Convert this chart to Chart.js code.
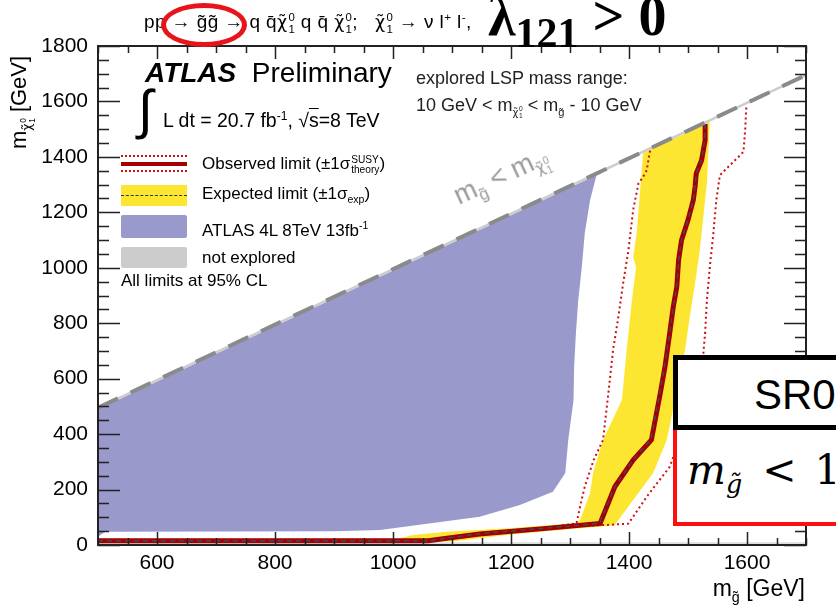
<!DOCTYPE html>
<html>
<head>
<meta charset="utf-8">
<script src="https://cdn.jsdelivr.net/npm/chart.js@4.4.1/dist/chart.umd.min.js"></script>
<style>
  body { margin: 0; background: #fff; }
  #wrap { position: relative; width: 836px; height: 606px; overflow: hidden;
          font-family: 'Liberation Sans', Arial, sans-serif; color: #000; }
  #c { position: absolute; left: 0; top: 0; }
  .t { position: absolute; white-space: nowrap; line-height: 1; }
  sub, sup { font-size: .62em; line-height: 0; }
  /* stacked superscript over subscript */
  .ss { display: inline-flex; flex-direction: column; font-size: .6em; line-height: 1.02; vertical-align: .62em; margin-left: .08em; }
  .chi { font-family: 'DejaVu Sans', sans-serif; font-size: .92em; }
  .sw { position: absolute; left: 121px; width: 66px; }
</style>
</head>
<body>
<div id="wrap">
  <canvas id="c" width="836" height="606"></canvas>

  <!-- process line and coupling -->
  <div class="t" style="left:144px;top:12px;font-size:19px;letter-spacing:.4px">pp → g̃g̃ → q q̄<span class="chi">χ̃</span><span class="ss"><span>0</span><span>1</span></span> q q̄ <span class="chi">χ̃</span><span class="ss"><span>0</span><span>1</span></span>;&nbsp;&nbsp; <span class="chi">χ̃</span><span class="ss"><span>0</span><span>1</span></span> → ν l<sup>+</sup> l<sup>-</sup>,</div>
  <div class="t" style="left:161px;top:3px;width:86px;height:44px;border:5px solid #e8141b;border-radius:50%;box-sizing:border-box"></div>
  <div class="t" style="left:488px;top:-16px;font:bold 56px 'Liberation Serif', serif">λ<span style="font-size:42px;position:relative;top:12px">121</span> &gt; 0</div>

  <!-- header and legend -->
  <div class="t" style="left:145px;top:59px;font-size:28px"><b><i>ATLAS</i></b>&nbsp;&nbsp;Preliminary</div>
  <div class="t" style="left:138px;top:82px;font-size:54px;font-weight:300">∫</div>
  <div class="t" style="left:163px;top:111px;font-size:19.5px">L dt = 20.7 fb<sup>-1</sup>, √<span style="text-decoration:overline">s</span>=8 TeV</div>

  <div class="sw" style="top:155px;border-top:2px dotted #cc1111"></div>
  <div class="sw" style="top:162px;height:4px;background:#a50000"></div>
  <div class="sw" style="top:170px;border-top:2px dotted #cc1111"></div>
  <div class="t" style="left:202px;top:155px;font-size:17px">Observed limit (±1σ<span class="ss"><span>SUSY</span><span>theory</span></span>)</div>

  <div class="sw" style="top:185px;height:21px;background:#fde631"></div>
  <div class="sw" style="top:195px;border-top:1.5px dashed #333"></div>
  <div class="t" style="left:202px;top:185px;font-size:17px">Expected limit (±1σ<sub>exp</sub>)</div>

  <div class="sw" style="top:215px;height:23px;background:#9999cc;border-radius:2px"></div>
  <div class="t" style="left:202px;top:222px;font-size:17px">ATLAS 4L 8TeV 13fb<sup>-1</sup></div>

  <div class="sw" style="top:247px;height:21px;background:#cccccc;border-radius:2px"></div>
  <div class="t" style="left:202px;top:249px;font-size:17px">not explored</div>
  <div class="t" style="left:121px;top:272px;font-size:17px">All limits at 95% CL</div>

  <div class="t" style="left:416px;top:69px;font-size:18px;color:#222">explored LSP mass range:</div>
  <div class="t" style="left:416px;top:96px;font-size:18px;color:#222">10 GeV &lt; m<sub><span class="chi">χ̃</span><span class="ss"><span>0</span><span>1</span></span></sub> &lt; m<sub>g̃</sub> - 10 GeV</div>

  <div class="t" style="left:459px;top:183px;font-size:27px;color:#9a9a9a;transform-origin:0 22px;transform:rotate(-25deg)">m<sub>g̃</sub> &lt; m<sub><span class="chi">χ̃</span><span class="ss"><span>0</span><span>1</span></span></sub></div>

  <!-- axis titles -->
  <div class="t" style="right:31px;top:577px;font-size:23px">m<sub>g̃</sub> [GeV]</div>
  <div class="t" style="left:8px;top:149px;font-size:22px;transform-origin:0 0;transform:rotate(-90deg)">m<sub><span class="chi">χ̃</span><span class="ss"><span>0</span><span>1</span></span></sub> [GeV]</div>

  <!-- signal region box -->
  <div class="t" style="left:673px;top:355px;width:200px;height:75px;border:5px solid #000;background:#fff;box-sizing:border-box"></div>
  <div class="t" style="left:754px;top:374px;font-size:42px">SR0</div>
  <div class="t" style="left:673px;top:430px;width:200px;height:96px;border:4px solid #ff1010;border-top:none;background:#fff;box-sizing:border-box"></div>
  <div class="t" style="left:687px;top:446px;font:41px 'DejaVu Serif', serif"><i>m</i><sub><i>g̃</i></sub><span style="margin-left:20px">&lt;</span><span style="margin-left:18px">1</span></div>
</div>

<script>
// tick labels
const xTickValues = [600, 800, 1000, 1200, 1400, 1600];
const yTickValues = [0, 200, 400, 600, 800, 1000, 1200, 1400, 1600, 1800];

// [m_gluino, m_chi] in GeV
const kinEdge = [[500, 495], [1700, 1695]];
const notExploredTop = [[500, 490], [1700, 1690], [1700, 1700], [500, 500]];
const notExploredLow = [[500, 0], [1700, 0], [1700, 10], [500, 10]];

const atlas4L = [[500, 490], [1345, 1335], [1334, 1244], [1325, 1125], [1320, 1003], [1314, 883],
  [1310, 764], [1307, 643], [1306, 523], [1297, 379], [1292, 260], [1271, 192], [1215, 144],
  [1147, 102], [978, 54], [900, 50], [512, 48], [500, 30]];

const expBand = [[1424, 1414], [1413, 1125], [1407, 1038], [1412, 1002], [1405, 883], [1396, 703],
  [1388, 523], [1356, 379], [1339, 260], [1334, 187], [1317, 90], [1311, 79], [1203, 61],
  [1091, 48], [1034, 36], [1000, 18], [1010, 12], [1100, 13], [1200, 38], [1300, 58], [1360, 68],
  [1376, 72], [1407, 162], [1441, 260], [1464, 379], [1478, 523], [1489, 643], [1495, 703],
  [1503, 823], [1512, 944], [1520, 1063], [1526, 1183], [1532, 1305], [1537, 1527]];

const obsLimit = [[500, 15], [1060, 15], [1091, 24], [1147, 40], [1260, 60], [1351, 78], [1376, 210],
  [1407, 306], [1438, 379], [1453, 547], [1461, 643], [1469, 764], [1475, 859], [1481, 931],
  [1484, 1027], [1489, 1099], [1500, 1172], [1509, 1244], [1512, 1292], [1514, 1341],
  [1523, 1388], [1529, 1460], [1529, 1519]];

const expLimit = [[500, 15], [1060, 15], [1092, 25], [1148, 41], [1260, 61], [1350, 78], [1376, 211],
  [1407, 307], [1437, 380], [1452, 548], [1460, 643], [1469, 764], [1475, 860], [1481, 932],
  [1484, 1027], [1489, 1100], [1500, 1172], [1509, 1244], [1512, 1292], [1514, 1341],
  [1523, 1388], [1528, 1460], [1529, 1519]];

const obsMinus = [[500, 13], [1040, 13], [1100, 28], [1250, 58], [1311, 78], [1317, 138], [1325, 210],
  [1340, 306], [1356, 379], [1365, 547], [1373, 703], [1382, 823], [1390, 943], [1399, 1063],
  [1407, 1208], [1416, 1304], [1424, 1328], [1430, 1352], [1436, 1426]];

const obsPlus = [[500, 17], [1080, 17], [1150, 44], [1270, 64], [1368, 73], [1399, 77], [1430, 174],
  [1469, 282], [1510, 520], [1526, 691], [1529, 764], [1532, 883], [1537, 1003], [1543, 1124],
  [1548, 1244], [1554, 1334], [1594, 1418], [1597, 1500], [1599, 1589]];

const toXY = pts => pts.map(([x, y]) => ({ x, y }));

function area(pts, color, order) {
  return { data: toXY(pts), fill: 'shape', backgroundColor: color, borderColor: 'rgba(0,0,0,0)',
           borderWidth: 0, pointRadius: 0, tension: 0, order };
}
function curve(pts, color, width, dash, order) {
  return { data: toXY(pts), fill: false, borderColor: color, borderWidth: width, borderDash: dash,
           borderCapStyle: 'butt', pointRadius: 0, tension: 0, order };
}

// ROOT style frame: inward ticks on all four sides
const frameTicks = {
  id: 'frameTicks',
  afterDatasetsDraw(chart) {
    const { ctx, chartArea: a, scales: { x, y } } = chart;
    ctx.save();
    ctx.strokeStyle = '#222';
    ctx.lineWidth = 1.5;
    ctx.beginPath();
    for (let v = 500; v <= 1700; v += 50) {
      const px = Math.round(x.getPixelForValue(v)) + 0.5;
      const len = v % 200 === 0 ? 13 : 7;
      ctx.moveTo(px, a.bottom); ctx.lineTo(px, a.bottom - len);
      ctx.moveTo(px, a.top); ctx.lineTo(px, a.top + len);
    }
    for (let v = 0; v <= 1800; v += 50) {
      const py = Math.round(y.getPixelForValue(v)) + 0.5;
      const len = v % 200 === 0 ? 22 : 11;
      ctx.moveTo(a.left, py); ctx.lineTo(a.left + len, py);
      ctx.moveTo(a.right, py); ctx.lineTo(a.right - len, py);
    }
    ctx.stroke();
    ctx.lineWidth = 2;
    ctx.strokeRect(a.left, a.top, a.width, a.height);
    ctx.restore();
  }
};

Chart.defaults.font.family = "'Liberation Sans', Arial, sans-serif";

new Chart(document.getElementById('c'), {
  type: 'line',
  data: {
    datasets: [
      curve(kinEdge, '#8a8a8a', 4, [22, 14], 0),
      curve(expLimit, '#3b4a66', 1.5, [5, 4], 1),
      curve(obsLimit, '#a50000', 5, [], 2),
      curve(obsMinus, '#cc1111', 2, [2, 3], 3),
      curve(obsPlus, '#cc1111', 2, [2, 3], 3),
      area(notExploredTop, '#cccccc', 4),
      area(notExploredLow, '#dddddd', 4),
      area(expBand, '#fde631', 5),
      area(atlas4L, '#9999cc', 6)
    ]
  },
  options: {
    responsive: false,
    animation: false,
    layout: { padding: { top: 46, right: 30, left: 0, bottom: 0 } },
    plugins: { legend: { display: false }, tooltip: { enabled: false } },
    scales: {
      x: {
        type: 'linear', min: 500, max: 1700,
        grid: { display: false }, border: { display: false },
        ticks: { font: { size: 21 }, color: '#000', padding: -2, maxRotation: 0, autoSkip: false,
                 callback: v => String(v) },
        afterBuildTicks: s => { s.ticks = xTickValues.map(v => ({ value: v })); },
        afterFit: s => { s.height = 61; }
      },
      y: {
        type: 'linear', min: 0, max: 1800,
        grid: { display: false }, border: { display: false },
        ticks: { font: { size: 21 }, color: '#000', padding: 2, autoSkip: false,
                 callback: v => String(v) },
        afterBuildTicks: s => { s.ticks = yTickValues.map(v => ({ value: v })); },
        afterFit: s => { s.width = 98; }
      }
    }
  },
  plugins: [frameTicks]
});
</script>
</body>
</html>
